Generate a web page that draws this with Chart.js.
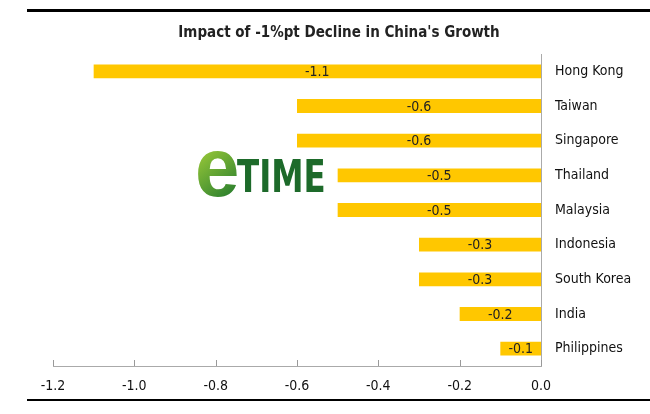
<!DOCTYPE html>
<html>
<head>
<meta charset="utf-8">
<script src="https://cdn.jsdelivr.net/npm/chart.js@4"></script>
<style>
  html, body { margin: 0; padding: 0; background: #fff; }
  #wrap { width: 650px; height: 414px; }
</style>
</head>
<body>
<div id="wrap"><canvas id="chart" width="650" height="414"></canvas></div>
<script>
var countries = ['Hong Kong', 'Taiwan', 'Singapore', 'Thailand', 'Malaysia', 'Indonesia', 'South Korea', 'India', 'Philippines'];
var impact = [-1.1, -0.6, -0.6, -0.5, -0.5, -0.3, -0.3, -0.2, -0.1];
var xTicks = [-1.2, -1.0, -0.8, -0.6, -0.4, -0.2, 0.0];
var chartTitle = "Impact of -1%pt Decline in China's Growth";

var FONT = '"DejaVu Sans Condensed", "DejaVu Sans", sans-serif';

// title, frame lines, upward tick marks, bar labels and the watermark
var decorations = {
  id: 'decorations',
  afterDraw: function(chart) {
    var ctx = chart.ctx;
    var xs = chart.scales.x;
    var area = chart.chartArea;
    ctx.save();

    // thick rules top and bottom
    ctx.fillStyle = '#000';
    ctx.fillRect(27, 9, 623, 3);
    ctx.fillRect(27, 399, 623, 2);

    // title
    ctx.fillStyle = '#222';
    ctx.font = 'bold 15px ' + FONT;
    ctx.textAlign = 'center';
    ctx.textBaseline = 'alphabetic';
    ctx.fillText(chartTitle, 339, 37);

    // tick marks pointing up from the axis
    ctx.strokeStyle = '#999';
    ctx.lineWidth = 1;
    xTicks.forEach(function(v) {
      var px = Math.round(xs.getPixelForValue(v)) + 0.5;
      ctx.beginPath();
      ctx.moveTo(px, area.bottom);
      ctx.lineTo(px, area.bottom - 6);
      ctx.stroke();
    });

    // value labels in the middle of each bar
    var meta = chart.getDatasetMeta(0);
    ctx.fillStyle = '#222';
    ctx.font = '14px ' + FONT;
    ctx.textAlign = 'center';
    ctx.textBaseline = 'middle';
    meta.data.forEach(function(bar, i) {
      var cx = (bar.x + bar.base) / 2;
      ctx.fillText(impact[i].toFixed(1), cx, bar.y + 1);
    });

    // eTIME watermark
    ctx.textAlign = 'left';
    ctx.textBaseline = 'alphabetic';
    ctx.save();
    ctx.translate(195, 196);
    ctx.scale(0.95, 1);
    var grad = ctx.createLinearGradient(0, -50, 40, 0);
    grad.addColorStop(0, '#a6d13a');
    grad.addColorStop(1, '#2a7f2e');
    ctx.fillStyle = grad;
    ctx.font = 'bold 84px "Liberation Sans", sans-serif';
    ctx.fillText('e', 0, 0);
    ctx.restore();
    ctx.fillStyle = '#1d6a2a';
    ctx.save();
    ctx.translate(237, 192);
    ctx.scale(0.82, 1);
    ctx.font = 'bold 44px ' + FONT;
    ctx.fillText('TIME', 0, 0);
    ctx.restore();

    ctx.restore();
  }
};

var ctx = document.getElementById('chart').getContext('2d');
var chartInstance = new Chart(ctx, {
  type: 'bar',
  data: {
    labels: countries,
    datasets: [{
      data: impact,
      backgroundColor: '#FFC700',
      borderWidth: 0,
      barPercentage: 0.8,
      categoryPercentage: 0.5
    }]
  },
  plugins: [decorations],
  options: {
    indexAxis: 'y',
    responsive: false,
    animation: false,
    layout: { padding: { left: 53, right: 0, top: 54, bottom: 0 } },
    plugins: {
      legend: { display: false },
      tooltip: { enabled: false },
      title: { display: false }
    },
    scales: {
      x: {
        min: -1.2,
        max: 0,
        afterFit: function(scale) { scale.height = 48; },
        afterBuildTicks: function(scale) {
          scale.ticks = xTicks.map(function(v) { return { value: v }; });
        },
        ticks: {
          color: '#111',
          padding: 12,
          font: { family: FONT, size: 14 },
          callback: function(v) { return Number(v).toFixed(1); }
        },
        grid: { display: false, drawTicks: false },
        border: { display: true, color: '#aaa', width: 1 }
      },
      y: {
        position: 'right',
        afterFit: function(scale) { scale.width = 109; },
        ticks: {
          color: '#111',
          padding: 14,
          font: { family: FONT, size: 14 }
        },
        grid: { display: false, drawTicks: false },
        border: { display: true, color: '#aaa', width: 1 }
      }
    }
  }
});
</script>
</body>
</html>
